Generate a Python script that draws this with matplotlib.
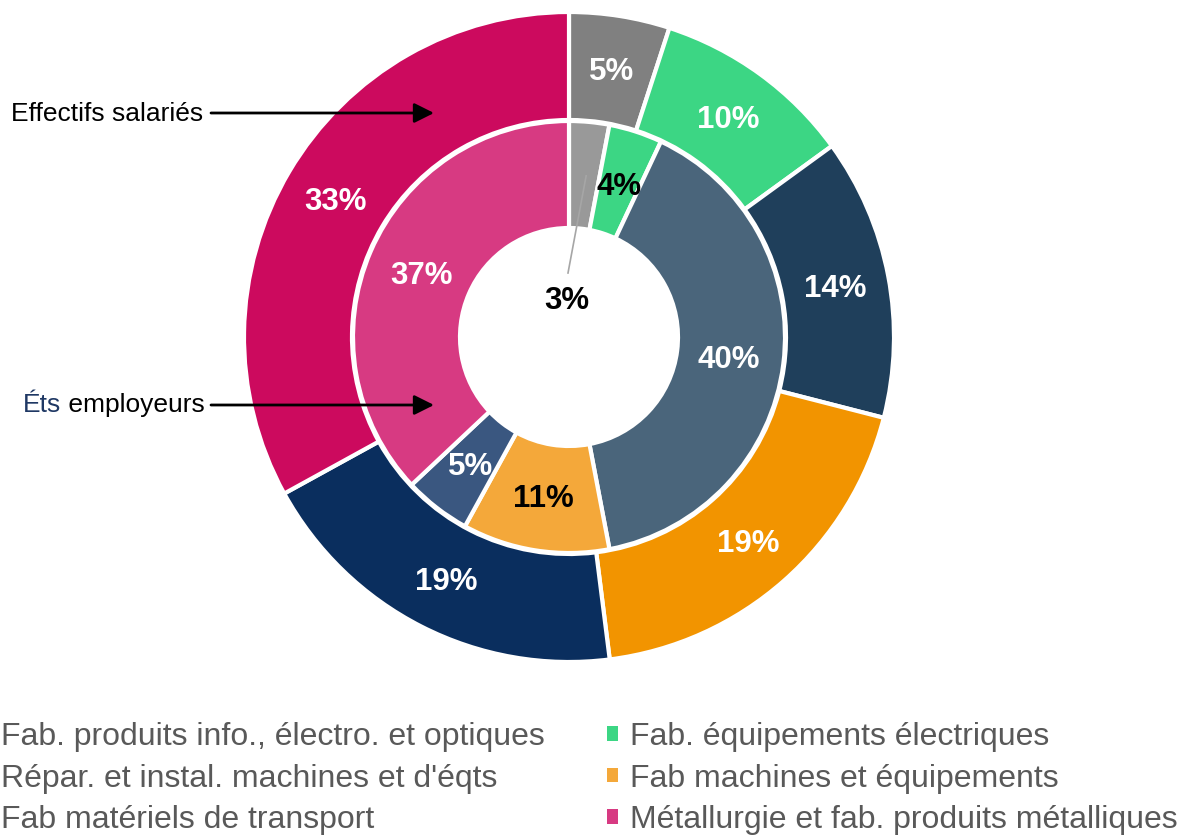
import matplotlib
matplotlib.use("Agg")
import matplotlib.pyplot as plt
from matplotlib.patches import Patch

plt.rcParams['font.family'] = ['Liberation Sans', 'DejaVu Sans']

# ---- data ----
categories = [
    "Fab. produits info., électro. et optiques",
    "Fab. équipements électriques",
    "Répar. et instal. machines et d'éqts",
    "Fab machines et équipements",
    "Fab matériels de transport",
    "Métallurgie et fab. produits métalliques",
]
salaries_pct = [5, 10, 14, 19, 19, 33]      # outer ring: Effectifs salariés
etablissements_pct = [3, 4, 40, 11, 5, 37]  # inner ring: Éts employeurs

outer_colors = ["#808080", "#3CD684", "#1F3F5B", "#F29400", "#0A2E5E", "#CC0A5E"]
inner_colors = ["#999999", "#3CD684", "#4A657B", "#F4A83A", "#3A5780", "#D73A82"]
inner_label_colors = ["black", "black", "white", "black", "white", "white"]

W, H = 1182, 838
fig = plt.figure(figsize=(W / 100, H / 100), dpi=100)
ax = fig.add_axes([0, 0, 1, 1])

cx, cy = 569, H - 337
R_out, w_out = 325, 108
R_in, w_in = 216, 107
edge = dict(edgecolor="white", linewidth=3.0)

wo, to, ao = ax.pie(salaries_pct, radius=R_out, center=(cx, cy), startangle=90,
                    counterclock=False, colors=outer_colors,
                    autopct=lambda p: f"{p:.0f}%", pctdistance=0.835,
                    wedgeprops=dict(width=w_out, **edge),
                    textprops=dict(fontsize=22.5, fontweight="bold", color="white"))

wi, ti, ai = ax.pie(etablissements_pct, radius=R_in, center=(cx, cy), startangle=90,
                    counterclock=False, colors=inner_colors,
                    autopct=lambda p: f"{p:.0f}%", pctdistance=0.745,
                    wedgeprops=dict(width=w_in, **edge),
                    textprops=dict(fontsize=22.5, fontweight="bold", color="white"))
for t, c in zip(ai, inner_label_colors):
    t.set_color(c)

# nudge labels down slightly (visual centring of digits)
for t in list(ao) + list(ai):
    x, y = t.get_position()
    t.set_position((x, y - 3))

# move the 3% label toward the centre with a leader line
x0, y0 = ai[0].get_position()
ai[0].set_position((cx - 2, H - 301))
ax.plot([x0 + 2, cx - 1], [y0 + 4, H - 273], color="#A6A6A6", lw=1.2, zorder=3)

ax.set_xlim(0, W)
ax.set_ylim(0, H)
ax.set_aspect("equal")
ax.axis("off")

# ---- ring annotations ----
arrow = dict(arrowstyle="-|>", color="black", lw=2, mutation_scale=30,
             shrinkA=0, shrinkB=0)
ax.annotate("", xy=(434, H - 113), xytext=(211, H - 113), arrowprops=arrow)
ax.text(203, H - 114, "Effectifs salariés", fontsize=19, ha="right", va="center",
        color="black")
ax.annotate("", xy=(434, H - 405), xytext=(211, H - 405), arrowprops=arrow)
t2 = ax.text(205, H - 405, " employeurs", fontsize=19, ha="right", va="center",
             color="black")
fig.canvas.draw()
bb = t2.get_window_extent()
ax.text(bb.x0, H - 405, "Éts", fontsize=19, ha="right", va="center", color="#1F3864")

# ---- legend ----
handles = [Patch(facecolor=c, edgecolor="none") for c in inner_colors]
order_left = [0, 2, 4]
order_right = [1, 3, 5]
common = dict(frameon=False, fontsize=23, labelcolor="#595959", handlelength=0.33,
              handleheight=0.33, handletextpad=0.38, labelspacing=0.36,
              borderpad=0, borderaxespad=0, loc="upper left")
leg1 = fig.legend([handles[i] for i in order_left], [categories[i] for i in order_left],
                  bbox_to_anchor=(-22 / W, 1 - 722 / H), **common)
leg2 = fig.legend([handles[i] for i in order_right], [categories[i] for i in order_right],
                  bbox_to_anchor=(607 / W, 1 - 722 / H), **common)

fig.savefig("out.png", dpi=100)
